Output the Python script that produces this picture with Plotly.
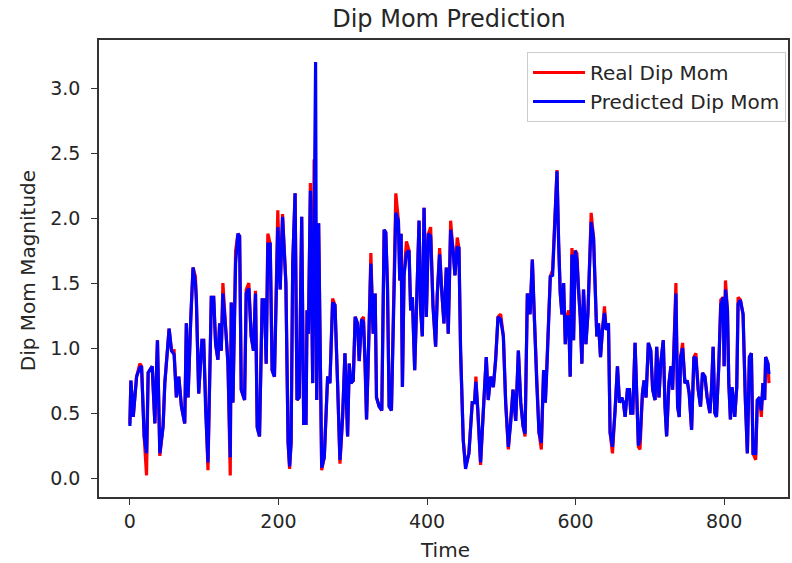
import plotly.graph_objects as go

time = [0, 1.3, 4.5, 9, 13.4, 15.7, 19.2, 22.4, 24.6, 30, 33.6, 37.1, 40.3, 44.7, 47, 52.8, 56, 59.5,
        62.6, 65.8, 69.4, 73.8, 76, 78.3, 81.9, 85, 88.2, 89.5, 92.6, 97, 99.3, 102, 105.1, 109.6,
        112.8, 115.4, 118.5, 120.8, 123, 125.2, 129.7, 132, 135.1, 136.5, 138.7, 142.3, 145.4, 147.7,
        149.9, 154.4, 156.6, 160.1, 163.3, 166.4, 169.1, 171.4, 174.5, 178.1, 181.2, 183.5, 185.7,
        188.9, 191.5, 194.6, 199.1, 202.3, 205.5, 210, 213, 215, 217, 219.2, 222.4, 225, 228, 231.3,
        234, 237.1, 238.5, 240.3, 243, 246.1, 248, 250, 251.5, 254.1, 258.2, 261.7, 266.2, 269.3,
        272.9, 276.1, 279.6, 282.8, 286.4, 289.5, 293.1, 295.3, 297.5, 300.7, 303.3, 306.4, 308.7,
        311.9, 314.5, 316.8, 318.6, 320.8, 324.4, 327.5, 330.2, 332, 335.6, 339.1, 342.3, 344.5,
        346.8, 349, 352.1, 358, 361.5, 363.3, 365.1, 366.9, 369.1, 372.3, 375.8, 378, 380.3, 383.4,
        387, 389.3, 391.5, 393.7, 396, 399.1, 401.8, 404.9, 408.1, 411.6, 413.9, 417, 419.7, 422.8,
        426, 428.6, 431.8, 434.9, 437.6, 440.7, 443, 445.2, 448.8, 451.9, 456.4, 460.9, 464, 465.8,
        468.5, 472.1, 476.6, 479.8, 482.4, 485.7, 489.3, 492.4, 495.6, 499.2, 502.8, 505.9, 509.5,
        512.6, 515.8, 519.4, 523, 526.2, 529.3, 532, 535.1, 538.7, 541.8, 544.1, 547.7, 550.8, 553.9,
        557, 559.3, 561.5, 566, 569.1, 571.8, 575, 577.2, 579.4, 581.7, 583.9, 586.2, 588.4, 590.6,
        592.8, 595.1, 597.3, 599.6, 601.8, 604, 606.3, 608.5, 610.7, 613.9, 616.6, 618.3, 621, 624.2,
        626.4, 628.6, 630.9, 633.6, 636.2, 638.9, 641.2, 644.3, 646.5, 649.7, 653.2, 656.4, 659.1,
        662.2, 664.4, 666.7, 669.8, 672.5, 674.3, 677, 680.1, 682.3, 684.6, 686.8, 690, 692.2, 694.9,
        698, 701.2, 703.8, 707, 709.2, 712.3, 714.6, 718.1, 720.4, 722.6, 725.7, 728.4, 730.6, 732.4,
        735.1, 737.4, 739.6, 741.4, 744.1, 747.2, 750.3, 753, 756.2, 759.3, 762, 765.1, 768.2, 770.9,
        774.1, 777.2, 780.8, 783, 785.2, 787.5, 789.7, 792.8, 795.5, 798.7, 800, 801.8, 804.5, 806.3,
        808.5, 810.7, 814.3, 817, 818.8, 821.9, 825.5, 828.6, 831.3, 834, 836.7, 838.9, 842.5, 844.7,
        847.9, 850.1, 852.3, 854.6, 855.9, 859, 860.4]

real = [0.42, 0.75, 0.47, 0.78, 0.88, 0.86, 0.32, 0.02, 0.81, 0.86, 0.42, 1.06, 0.17, 0.40, 0.73, 1.15, 0.98, 0.98,
        0.62, 0.78, 0.55, 0.42, 1.19, 0.62, 1.22, 1.62, 1.55, 1.37, 0.65, 1.06, 1.06, 0.52, 0.06, 1.39,
        1.39, 1.03, 0.91, 1.19, 0.98, 1.50, 1.09, 0.88, 0.02, 1.35, 0.58, 1.75, 1.88, 1.86,
        0.68, 0.60, 1.45, 1.50, 1.09, 0.98, 1.44, 0.39, 0.32, 1.37, 1.37, 0.88, 1.88,
        1.80, 0.83, 0.78, 2.06, 1.45, 2.03, 1.50, 0.27, 0.07, 0.27, 1.65, 2.19, 0.60, 0.62, 2.01,
        0.42, 0.42, 1.29, 1.11, 2.27, 0.73, 2.45, 1.95, 0.60, 1.96, 0.06, 0.16, 0.78, 0.73,
        1.38, 1.33, 0.73, 0.11, 0.47, 0.96, 0.32, 0.88, 0.73, 0.75, 1.24, 1.19, 0.90,
        1.22, 1.24, 0.88, 0.45, 0.86, 1.73, 1.11, 1.42, 0.62, 0.55, 0.52, 1.91, 1.89,
        1.50, 0.55, 0.52, 2.19, 1.98, 1.52, 1.88, 0.70, 1.56, 1.82, 1.75, 1.29, 1.39, 0.83,
        1.45, 1.98, 1.29, 1.09, 2.08, 1.24, 1.88, 1.93, 1.32, 1.01, 1.42, 1.77, 1.45, 1.19,
        1.62, 1.11, 1.98, 1.77, 1.56, 1.85, 1.77, 0.98, 0.29, 0.09, 0.19, 0.58, 0.58, 0.78,
        0.52, 0.10, 0.60, 0.93, 0.60, 0.78, 0.70, 0.91, 1.24, 1.26, 1.09, 0.58, 0.22,
        0.42, 0.68, 0.44, 0.98, 0.58, 0.40, 0.32, 1.42, 1.26, 1.68, 1.29, 0.73, 0.35, 0.22,
        0.83, 0.58, 0.86, 1.55, 1.60, 1.98, 2.37, 1.81, 1.42, 1.26, 1.50, 1.03, 1.24, 1.29,
        0.78, 1.77, 1.06, 1.75, 1.73, 1.45, 1.24, 0.88, 1.45, 1.03, 1.26, 1.55, 2.04, 1.85,
        1.39, 1.09, 1.19, 0.93, 1.14, 1.32, 1.14, 1.19, 0.35, 0.19, 0.52, 0.86, 0.58,
        0.62, 0.58, 0.47, 0.68, 0.68, 0.50, 0.50, 1.04, 0.58, 0.24, 0.22, 0.65, 0.75, 0.62,
        1.04, 0.98, 0.68, 0.60, 1.01, 0.62, 0.88, 1.06, 0.55, 0.32, 0.73, 0.86, 0.68, 1.04,
        1.50, 0.55, 0.47, 0.93, 1.04, 0.73, 0.75, 0.65, 0.37, 0.93, 0.96, 0.68, 0.55, 0.81,
        0.78, 0.62, 0.50, 0.68, 1.01, 0.50, 0.47, 0.86, 1.37, 1.39, 0.86, 1.52, 1.29, 0.73,
        0.45, 0.70, 0.47, 0.70, 1.39, 1.37, 1.26, 0.60, 0.19, 0.93, 0.96, 0.19, 0.14, 0.60,
        0.62, 0.47, 0.73, 0.60, 0.93, 0.88, 0.73]

predicted = [0.40, 0.75, 0.47, 0.78, 0.85, 0.86, 0.32, 0.19, 0.81, 0.86, 0.42, 1.06, 0.19, 0.40, 0.73, 1.15, 0.98, 0.95,
             0.62, 0.78, 0.55, 0.42, 1.19, 0.62, 1.22, 1.62, 1.50, 1.37, 0.65, 1.06, 1.06, 0.52, 0.12, 1.39,
             1.39, 1.03, 0.91, 1.19, 0.98, 1.42, 1.09, 0.88, 0.16, 1.35, 0.58, 1.65, 1.88, 1.86,
             0.68, 0.60, 1.42, 1.46, 1.09, 0.98, 1.42, 0.39, 0.32, 1.37, 1.37, 0.88, 1.80,
             1.80, 0.83, 0.78, 1.93, 1.45, 2.01, 1.50, 0.27, 0.09, 0.27, 1.65, 2.19, 0.60, 0.62, 2.01,
             0.42, 0.42, 1.29, 1.11, 2.21, 0.73, 1.90, 3.20, 0.60, 1.96, 0.08, 0.16, 0.78, 0.73,
             1.35, 1.33, 0.73, 0.14, 0.47, 0.96, 0.32, 0.88, 0.73, 0.75, 1.24, 1.19, 0.90,
             1.22, 1.20, 0.88, 0.45, 0.86, 1.65, 1.11, 1.42, 0.62, 0.55, 0.52, 1.91, 1.89,
             1.45, 0.55, 0.52, 2.04, 1.98, 1.52, 1.88, 0.70, 1.56, 1.73, 1.75, 1.29, 1.39, 0.83,
             1.45, 1.98, 1.29, 1.09, 2.08, 1.24, 1.88, 1.86, 1.32, 1.01, 1.42, 1.72, 1.45, 1.19,
             1.62, 1.11, 1.91, 1.77, 1.56, 1.78, 1.77, 0.98, 0.29, 0.07, 0.19, 0.58, 0.58, 0.74,
             0.52, 0.12, 0.60, 0.93, 0.60, 0.78, 0.70, 0.91, 1.24, 1.22, 1.09, 0.58, 0.24,
             0.42, 0.68, 0.44, 0.98, 0.58, 0.40, 0.34, 1.42, 1.26, 1.68, 1.29, 0.73, 0.35, 0.27,
             0.83, 0.58, 0.86, 1.55, 1.56, 1.98, 2.36, 1.81, 1.42, 1.26, 1.50, 1.03, 1.24, 1.24,
             0.78, 1.72, 1.06, 1.75, 1.68, 1.45, 1.24, 0.88, 1.45, 1.03, 1.26, 1.55, 1.97, 1.85,
             1.39, 1.09, 1.19, 0.93, 1.14, 1.27, 1.14, 1.19, 0.35, 0.24, 0.52, 0.86, 0.58,
             0.62, 0.58, 0.47, 0.68, 0.68, 0.50, 0.50, 1.04, 0.58, 0.25, 0.30, 0.65, 0.75, 0.62,
             1.04, 0.98, 0.68, 0.60, 1.01, 0.62, 0.88, 1.06, 0.55, 0.32, 0.73, 0.86, 0.68, 1.04,
             1.42, 0.55, 0.47, 0.93, 1.00, 0.73, 0.75, 0.65, 0.37, 0.93, 0.92, 0.68, 0.55, 0.81,
             0.78, 0.62, 0.50, 0.68, 1.01, 0.50, 0.47, 0.86, 1.33, 1.39, 0.86, 1.45, 1.29, 0.73,
             0.45, 0.70, 0.47, 0.70, 1.34, 1.37, 1.26, 0.60, 0.19, 0.93, 0.96, 0.19, 0.19, 0.60,
             0.62, 0.52, 0.73, 0.60, 0.93, 0.88, 0.80]

x_ticks = [0, 200, 400, 600, 800]
y_ticks = [0.0, 0.5, 1.0, 1.5, 2.0, 2.5, 3.0]

FONT = "DejaVu Sans"
TXT = "#262626"
W, H = 792, 563
L, R, T, B = 99, 2, 40, 66
pw, ph = W - L - R, H - T - B

fig = go.Figure()
fig.add_trace(go.Scatter(x=time, y=real, mode="lines", name="Real Dip Mom",
                         line=dict(color="#ff0000", width=3.2)))
fig.add_trace(go.Scatter(x=time, y=predicted, mode="lines", name="Predicted Dip Mom",
                         line=dict(color="#0000ff", width=3.2)))

axis_common = dict(showgrid=False, zeroline=False, showline=True, mirror=True,
                   linecolor="#333333", linewidth=1.5, ticks="outside", ticklen=6,
                   tickwidth=1.3, tickcolor="#333333",
                   tickfont=dict(family=FONT, size=19, color=TXT))

fig.update_xaxes(range=[-41.6, 886], tickvals=x_ticks, ticktext=[str(v) for v in x_ticks],
                 ticklabelstandoff=0, **axis_common)
fig.update_yaxes(range=[-0.146, 3.37], tickvals=y_ticks, ticktext=[f"{v:.1f}" for v in y_ticks],
                 ticklabelstandoff=7, **axis_common)

fig.update_layout(
    width=W, height=H,
    margin=dict(l=L, r=R, t=T, b=B),
    paper_bgcolor="white", plot_bgcolor="white",
    title=dict(text="Dip Mom Prediction", x=(450 - L) / pw, xref="paper", xanchor="center",
               y=1 - 19 / H, yref="container", yanchor="middle",
               font=dict(family=FONT, size=24, color=TXT)),
    legend=dict(x=(788 - L) / pw, y=(H - B - 52) / ph, xanchor="right", yanchor="top",
                bgcolor="rgba(255,255,255,0.9)", bordercolor="#cccccc", borderwidth=1,
                itemwidth=52,
                font=dict(family=FONT, size=20, color=TXT), tracegroupgap=0),
    showlegend=True,
    annotations=[
        dict(text="Time", xref="paper", yref="paper", x=(446 - L) / pw, y=-(550 - (H - B)) / ph,
             xanchor="center", yanchor="middle", showarrow=False,
             font=dict(family=FONT, size=20, color=TXT)),
        dict(text="Dip Mom Magnitude", xref="paper", yref="paper", x=(28 - L) / pw,
             y=(H - B - 271) / ph, xanchor="center", yanchor="middle", textangle=-90,
             showarrow=False, font=dict(family=FONT, size=20, color=TXT)),
    ],
)

fig.write_html("out.html")
